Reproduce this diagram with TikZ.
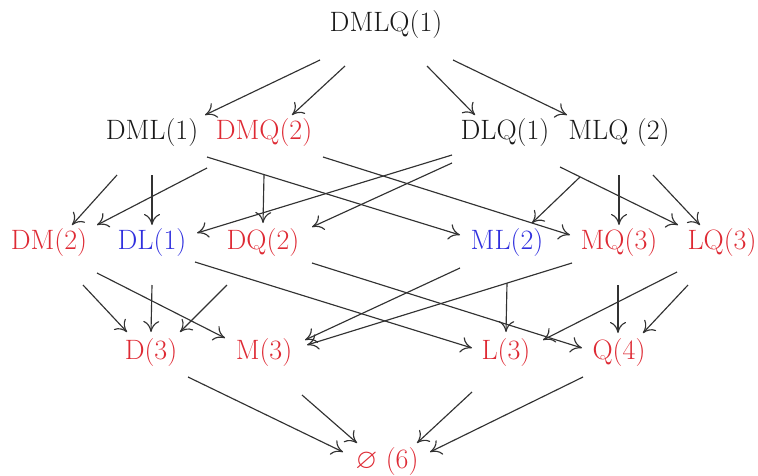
\documentclass[tikz,border=0pt]{standalone}
\usepackage{fontspec}
\usepackage{amssymb}
\usetikzlibrary{arrows.meta}
\definecolor{lred}{RGB}{222,42,52}
\definecolor{lblue}{RGB}{48,48,222}
\definecolor{lblack}{RGB}{25,25,25}
\definecolor{lline}{RGB}{50,50,50}
\tikzset{
  lab/.style={inner sep=0pt, outer sep=0pt, font=\fontsize{28}{33}\selectfont, text=lblack},
  rlab/.style={lab, text=lred},
  blab/.style={lab, text=lblue},
  arr/.style={draw=lline, line width=1.15pt,
    -{Computer Modern Rightarrow[length=11pt,width=16pt]}}
}
\begin{document}
\begin{tikzpicture}[x=1pt,y=-1pt]
\useasboundingbox (0,0) rectangle (758,475);
% nodes
\node[lab]  (DMLQ) at (386,25) {DMLQ(1)};
\node[lab]  (DML)  at (152,133) {DML(1)};
\node[rlab] (DMQ)  at (264,133) {DMQ(2)};
\node[lab]  (DLQ)  at (505,133) {DLQ(1)};
\node[lab]  (MLQ)  at (619,133) {MLQ (2)};
\node[rlab] (DM)   at (49,243) {DM(2)};
\node[blab] (DL)   at (152,243) {DL(1)};
\node[rlab] (DQ)   at (263,243) {DQ(2)};
\node[blab] (ML)   at (507,243) {ML(2)};
\node[rlab] (MQ)   at (619,243) {MQ(3)};
\node[rlab] (LQ)   at (722,243) {LQ(3)};
\node[rlab] (D)    at (151,353) {D(3)};
\node[rlab] (M)    at (264,353) {M(3)};
\node[rlab] (L)    at (506,353) {L(3)};
\node[rlab] (Q)    at (619,353) {Q(4)};
\node[rlab] (E)    at (387,462) {$\varnothing$ (6)};
% level 0 -> 1
\draw[arr] ([shift={(-66,35)}]DMLQ.center) -- ([shift={(53,-18)}]DML.center);
\draw[arr] ([shift={(-41,41)}]DMLQ.center) -- ([shift={(28,-18)}]DMQ.center);
\draw[arr] ([shift={(41,41)}]DMLQ.center)  -- ([shift={(-30,-18)}]DLQ.center);
\draw[arr] ([shift={(67,35)}]DMLQ.center)  -- ([shift={(-52,-18)}]MLQ.center);
% level 1 -> 2
\draw[arr] ([shift={(-35,42)}]DML.center) -- ([shift={(23,-18)}]DM.center);
\draw[arr] ([shift={(-57,35)}]DMQ.center) -- ([shift={(48,-18)}]DM.center);
\draw[arr] ([shift={(0,42)}]DML.center)   -- ([shift={(0,-18)}]DL.center);
\draw[arr] ([shift={(55,24)}]DML.center)  -- ([shift={(-47,-8)}]ML.center);
\draw[arr] ([shift={(0,42)}]DMQ.center)   -- ([shift={(0,-20)}]DQ.center);
\draw[arr] ([shift={(59,24)}]DMQ.center)  -- ([shift={(-49,-8)}]MQ.center);
\draw[arr] ([shift={(-53,22)}]DLQ.center) -- ([shift={(45,-10)}]DL.center);
\draw[arr] ([shift={(-53,30)}]DLQ.center) -- ([shift={(49,-16)}]DQ.center);
\draw[arr] ([shift={(-39,44)}]MLQ.center) -- ([shift={(25,-20)}]ML.center);
\draw[arr] ([shift={(0,42)}]MLQ.center)   -- ([shift={(0,-18)}]MQ.center);
\draw[arr] ([shift={(34,42)}]MLQ.center)  -- ([shift={(-22,-18)}]LQ.center);
\draw[arr] ([shift={(55,34)}]DLQ.center)  -- ([shift={(-44,-18)}]LQ.center);
% level 2 -> 3
\draw[arr] ([shift={(34,42)}]DM.center)  -- ([shift={(-24,-21)}]D.center);
\draw[arr] ([shift={(0,42)}]DL.center)   -- ([shift={(0,-21)}]D.center);
\draw[arr] ([shift={(-36,42)}]DQ.center) -- ([shift={(29,-21)}]D.center);
\draw[arr] ([shift={(48,30)}]DM.center)  -- ([shift={(-39,-15)}]M.center);
\draw[arr] ([shift={(-47,25)}]ML.center) -- ([shift={(41,-13)}]M.center);
\draw[arr] ([shift={(-47,20)}]MQ.center) -- ([shift={(43,-8)}]M.center);
\draw[arr] ([shift={(43,19)}]DL.center)  -- ([shift={(-34,-5)}]L.center);
\draw[arr] ([shift={(49,20)}]DQ.center)  -- ([shift={(-37,-5)}]Q.center);
\draw[arr] ([shift={(0,40)}]ML.center)   -- ([shift={(0,-21)}]L.center);
\draw[arr] ([shift={(-1,42)}]MQ.center)  -- ([shift={(-1,-20)}]Q.center);
\draw[arr] ([shift={(-45,29)}]LQ.center) -- ([shift={(37,-13)}]L.center);
\draw[arr] ([shift={(-34,42)}]LQ.center) -- ([shift={(24,-20)}]Q.center);
% level 3 -> 4
\draw[arr] ([shift={(37,24)}]D.center)  -- ([shift={(-44,-10)}]E.center);
\draw[arr] ([shift={(38,42)}]M.center)  -- ([shift={(-30,-19)}]E.center);
\draw[arr] ([shift={(-34,39)}]L.center) -- ([shift={(30,-19)}]E.center);
\draw[arr] ([shift={(-36,24)}]Q.center) -- ([shift={(43,-10)}]E.center);
\end{tikzpicture}
\end{document}
